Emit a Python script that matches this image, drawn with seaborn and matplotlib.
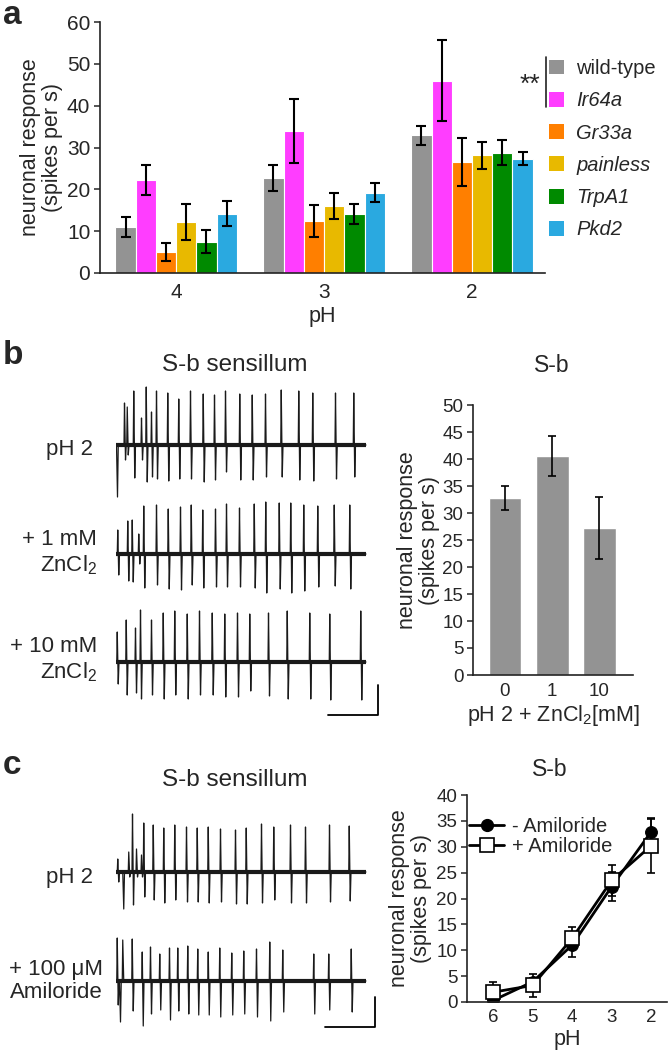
import matplotlib
matplotlib.use("Agg")
import matplotlib.pyplot as plt
import seaborn as sns
import pandas as pd
import numpy as np
from matplotlib.lines import Line2D
from matplotlib.patches import Patch

# ---- panel a: responses per genotype and pH ----
ph_levels = ['4', '3', '2']
genotypes = ['wild-type', 'Ir64a', 'Gr33a', 'painless', 'TrpA1', 'Pkd2']
geno_colors = ['#939393', '#ff3dff', '#ff7f00', '#e8b900', '#008a00', '#2aa9e0']
resp_ph4 = [11.0, 22.3, 5.0, 12.1, 7.5, 14.2]
err_ph4 = [2.4, 3.6, 2.2, 4.3, 2.7, 2.9]
resp_ph3 = [22.7, 34.0, 12.4, 16.0, 14.2, 19.2]
err_ph3 = [3.2, 7.6, 3.9, 3.2, 2.4, 2.2]
resp_ph2 = [32.9, 46.0, 26.6, 28.1, 28.8, 27.3]
err_ph2 = [2.3, 9.7, 5.7, 3.2, 2.9, 1.6]

# ---- panel b: ZnCl2 block ----
zn_conc = ['0', '1', '10']
zn_resp = [32.8, 40.6, 27.2]
zn_err = [2.2, 3.7, 5.7]

# ---- panel c: amiloride dose series ----
ph_axis = ['6', '5', '4', '3', '2']
no_amil = [0.3, 3.9, 11.0, 22.3, 32.9]
no_amil_err = [0.8, 0.8, 2.3, 2.8, 2.6]
with_amil = [1.9, 3.2, 12.3, 23.5, 30.2]
with_amil_err = [2.0, 2.2, 2.1, 3.0, 5.2]

# ---- spike traces (time in ms, up / down deflection in arbitrary units) ----
b_ph2_t = [0, 32, 43, 69, 100, 119, 140, 160, 205, 249, 296, 347, 392, 436, 493, 543, 596, 659, 729, 785, 876, 949]
b_ph2_up = [0, 42, 38, 54, 27, 58, 33, 54, 52, 46, 54, 51, 50, 54, 51, 50, 51, 55, 54, 52, 52, 52]
b_ph2_dn = [52, 15, 10, 33, 15, 37, 32, 34, 36, 34, 34, 37, 35, 27, 35, 35, 32, 32, 35, 36, 34, 32]

b_zn1_t = [5, 45, 63, 89, 109, 160, 207, 256, 299, 345, 396, 440, 492, 551, 597, 651, 697, 749, 805, 871, 933]
b_zn1_up = [24, 33, 34, 20, 48, 49, 45, 47, 49, 44, 45, 50, 46, 50, 52, 51, 51, 49, 48, 49, 49]
b_zn1_dn = [21, 27, 28, 10, 34, 31, 35, 36, 31, 34, 33, 33, 33, 34, 39, 35, 39, 37, 33, 32, 35]

b_zn10_t = [3, 39, 76, 96, 140, 187, 233, 283, 332, 383, 433, 484, 533, 608, 683, 773, 853, 977]
b_zn10_up = [30, 42, 34, 52, 42, 49, 51, 48, 51, 49, 48, 49, 48, 49, 51, 49, 48, 51]
b_zn10_dn = [22, 33, 31, 37, 33, 37, 33, 37, 33, 33, 35, 35, 29, 34, 37, 37, 38, 38]

c_ph2_t = [5, 25, 49, 64, 80, 100, 109, 147, 189, 233, 280, 323, 367, 416, 476, 519, 580, 629, 696, 756, 852, 931]
c_ph2_up = [13, 0, 20, 58, 23, 17, 49, 47, 44, 47, 45, 44, 45, 43, 42, 44, 48, 45, 47, 45, 47, 46]
c_ph2_dn = [10, 37, 5, 33, 5, 5, 25, 28, 31, 28, 30, 30, 31, 30, 32, 32, 31, 28, 31, 31, 30, 29]

c_amil_t = [3, 12, 25, 63, 103, 136, 173, 212, 245, 285, 325, 367, 413, 461, 509, 560, 613, 665, 789, 849, 939]
c_amil_up = [43, 0, 41, 42, 29, 34, 27, 33, 33, 35, 32, 29, 33, 28, 30, 32, 39, 31, 27, 27, 32]
c_amil_dn = [24, 41, 0, 30, 45, 33, 29, 39, 30, 33, 34, 34, 36, 34, 33, 36, 40, 31, 33, 29, 31]

TRACE_END = 1000

sns.set_style('ticks')
plt.rcParams['font.family'] = ['Liberation Sans', 'DejaVu Sans']
plt.rcParams['mathtext.fontset'] = 'custom'
plt.rcParams['mathtext.rm'] = 'Liberation Sans'
plt.rcParams['mathtext.it'] = 'Liberation Sans:italic'
plt.rcParams['axes.linewidth'] = 1.2

W, H = 668, 1050
LABEL_FS = 15.5
fig = plt.figure(figsize=(W / 100, H / 100), dpi=100)


def px_axes(x0, y0, x1, y1):
    return fig.add_axes([x0 / W, 1 - y1 / H, (x1 - x0) / W, (y1 - y0) / H])


def style_axes(ax, tick_fs, xpad):
    sns.despine(ax=ax)
    for s in ['left', 'bottom']:
        ax.spines[s].set_color('#222222')
    ax.tick_params(axis='y', direction='out', length=4, width=1.1, labelsize=tick_fs, pad=3)
    ax.tick_params(axis='x', length=0, labelsize=tick_fs, pad=xpad)


# ================= panel a =================
rows = []
for ph, vals, errs in zip(ph_levels, [resp_ph4, resp_ph3, resp_ph2], [err_ph4, err_ph3, err_ph2]):
    for g, v, e in zip(genotypes, vals, errs):
        rows.append({'pH': ph, 'genotype': g, 'resp': v, 'err': e})
df_a = pd.DataFrame(rows)

ax_a = px_axes(100, 22, 545, 273)
sns.barplot(data=df_a, x='pH', y='resp', hue='genotype', order=ph_levels, hue_order=genotypes,
            palette=geno_colors, width=0.82, errorbar=None, edgecolor='white', linewidth=0.8,
            saturation=1, legend=False, ax=ax_a)
for cont, g in zip(ax_a.containers, genotypes):
    sub = df_a[df_a.genotype == g]
    xs = [b.get_x() + b.get_width() / 2 for b in cont]
    ax_a.errorbar(xs, sub.resp, yerr=sub.err, fmt='none', ecolor='black',
                  elinewidth=1.5, capsize=3.5, capthick=1.5)
ax_a.set_xlim(-0.514, 2.493)
ax_a.set_ylim(0, 60)
ax_a.set_yticks(range(0, 61, 10))
ax_a.set_xlabel('pH', fontsize=LABEL_FS, labelpad=3)
ax_a.set_ylabel('neuronal response\n(spikes per s)', fontsize=LABEL_FS, labelpad=3, linespacing=1.05)
style_axes(ax_a, 15, 7)

handles = [Patch(facecolor=c, edgecolor='none') for c in geno_colors]
leg = ax_a.legend(handles, genotypes, loc='upper left', bbox_to_anchor=(549 / W, 1 - 59 / H),
                  bbox_transform=fig.transFigure, frameon=False, fontsize=14.5,
                  handlelength=0.75, handleheight=0.75, handletextpad=0.6, labelspacing=0.66,
                  borderpad=0, borderaxespad=0)
for t in leg.get_texts()[1:]:
    t.set_style('italic')
fig.add_artist(Line2D([546 / W, 546 / W], [1 - 57 / H, 1 - 107 / H], transform=fig.transFigure,
                      color='#222222', lw=1.2))
fig.text(530 / W, 1 - 85 / H, '**', ha='center', va='center', fontsize=19)

# ================= panel b =================
ax_b = px_axes(473, 405, 633, 675)
sns.barplot(x=zn_conc, y=zn_resp, color='#939393', saturation=1, width=0.7, errorbar=None, ax=ax_b)
ax_b.errorbar(range(len(zn_conc)), zn_resp, yerr=zn_err, fmt='none', ecolor='black',
              elinewidth=1.2, capsize=3, capthick=1.2)
ax_b.set_xlim(-0.68, 2.72)
ax_b.set_ylim(0, 50)
ax_b.set_yticks(range(0, 51, 5))
ax_b.set_xlabel('pH 2 + ZnCl$_2$[mM]', fontsize=LABEL_FS, labelpad=2)
ax_b.set_ylabel('neuronal response\n(spikes per s)', fontsize=LABEL_FS, labelpad=2, linespacing=1.05)
style_axes(ax_b, 13.5, 6)
fig.text(552 / W, 1 - 365 / H, 'S-b', ha='center', va='center', fontsize=16.5)

# ================= panel c =================
ax_c = px_axes(467, 795, 667, 1002)
xpos = list(range(len(ph_axis)))
df_c = pd.DataFrame({'x': xpos * 2, 'resp': no_amil + with_amil,
                     'cond': ['- Amiloride'] * 5 + ['+ Amiloride'] * 5})
ax_c.errorbar(xpos, with_amil, yerr=with_amil_err, fmt='none', ecolor='black',
              elinewidth=1.2, capsize=3, capthick=1.2)
ax_c.errorbar(xpos, no_amil, yerr=no_amil_err, fmt='none', ecolor='black',
              elinewidth=1.2, capsize=3, capthick=1.2)
sns.lineplot(data=df_c[df_c.cond == '- Amiloride'], x='x', y='resp', color='black', lw=2,
             marker='o', markersize=8.5, markerfacecolor='black', markeredgecolor='black', ax=ax_c)
sns.lineplot(data=df_c[df_c.cond == '+ Amiloride'], x='x', y='resp', color='black', lw=2,
             marker='s', markersize=10, markerfacecolor='white', markeredgecolor='black',
             markeredgewidth=1.2, ax=ax_c)
ax_c.set_xticks(xpos)
ax_c.set_xticklabels(ph_axis)
ax_c.set_xlim(-0.66, 4.4)
ax_c.set_ylim(0, 40)
ax_c.set_yticks(range(0, 41, 5))
ax_c.set_xlabel('pH', fontsize=LABEL_FS, labelpad=2)
ax_c.set_ylabel('neuronal response\n(spikes per s)', fontsize=LABEL_FS, labelpad=3, linespacing=1.05)
style_axes(ax_c, 13.5, 5)
c_handles = [Line2D([], [], color='black', lw=2, marker='o', markersize=8.5),
             Line2D([], [], color='black', lw=2, marker='s', markersize=10,
                    markerfacecolor='white', markeredgewidth=1.2)]
ax_c.legend(c_handles, ['- Amiloride', '+ Amiloride'], loc='upper left',
            bbox_to_anchor=(469 / W, 1 - 817 / H), bbox_transform=fig.transFigure,
            frameon=False, fontsize=14.5, handlelength=1.75, handletextpad=0.4, labelspacing=0.05,
            borderpad=0, borderaxespad=0)
fig.text(550 / W, 1 - 770 / H, 'S-b', ha='center', va='center', fontsize=16.5)


# ================= traces =================
def trace_xy(times, ups, downs, offset):
    t, v = [0], [0]
    for s, u, d in zip(times, ups, downs):
        t += [s, s + 2, s + 6, s + 9]
        v += [0, u, -d, 0]
    t.append(TRACE_END)
    v.append(0)
    return np.array(t), np.array(v) + offset


def draw_traces(ax, traces, offsets):
    for (tt, uu, dd), off in zip(traces, offsets):
        ax.plot([0, TRACE_END], [off, off], color='#1a1a1a', lw=3.0, solid_capstyle='butt')
        x, y = trace_xy(tt, uu, dd, off)
        ax.plot(x, y, color='#1a1a1a', lw=0.9)


# panel b traces: px x 116..386 -> 0..1080 ms, baseline of first trace at y=445 px
ax_tb = px_axes(116, 370, 386, 720)
ax_tb.set_xlim(0, 1080)
ax_tb.set_ylim(-275, 75)
draw_traces(ax_tb, [(b_ph2_t, b_ph2_up, b_ph2_dn), (b_zn1_t, b_zn1_up, b_zn1_dn),
                    (b_zn10_t, b_zn10_up, b_zn10_dn)], [0, -109, -217])
ax_tb.plot([848, 1048, 1048], [-270, -270, -240], color='black', lw=1.3)
ax_tb.axis('off')

ax_tc = px_axes(116, 790, 386, 1040)
ax_tc.set_xlim(0, 1080)
ax_tc.set_ylim(-168, 82)
draw_traces(ax_tc, [(c_ph2_t, c_ph2_up, c_ph2_dn), (c_amil_t, c_amil_up, c_amil_dn)], [0, -109])
ax_tc.plot([836, 1036, 1036], [-155, -155, -125], color='black', lw=1.3)
ax_tc.axis('off')

# trace labels and titles
fig.text(235 / W, 1 - 365 / H, 'S-b sensillum', ha='center', va='center', fontsize=17.5)
fig.text(235 / W, 1 - 780 / H, 'S-b sensillum', ha='center', va='center', fontsize=17.5)
fig.text(93 / W, 1 - 449 / H, 'pH 2', ha='right', va='center', fontsize=16)
fig.text(97 / W, 1 - 553 / H, '+ 1 mM\nZnCl$_2$', ha='right', va='center', fontsize=16,
         multialignment='right', linespacing=1.2)
fig.text(97 / W, 1 - 660 / H, '+ 10 mM\nZnCl$_2$', ha='right', va='center', fontsize=16,
         multialignment='right', linespacing=1.2)
fig.text(93 / W, 1 - 877 / H, 'pH 2', ha='right', va='center', fontsize=16)
fig.text(103 / W, 1 - 981 / H, '+ 100 \u03bcM\nAmiloride', ha='right', va='center', fontsize=16,
         multialignment='right', linespacing=1.1)

# panel letters
for letter, y in [('a', 16), ('b', 355), ('c', 765)]:
    fig.text(3 / W, 1 - y / H, letter, ha='left', va='center', fontsize=24, fontweight='bold')

fig.savefig('out.png', dpi=100)
